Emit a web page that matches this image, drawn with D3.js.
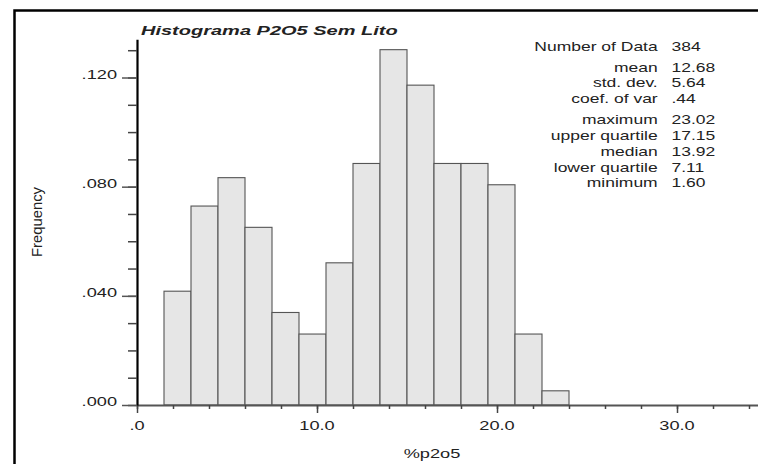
<!DOCTYPE html>
<html>
<head>
<meta charset="utf-8">
<script src="https://cdn.jsdelivr.net/npm/d3@7"></script>
<style>
  html, body { margin: 0; padding: 0; background: #fff; }
  svg { display: block; }
  text { font-family: "Liberation Sans", Arial, Helvetica, sans-serif; fill: #222; }
</style>
</head>
<body>
<script>
// ---- data ----
const binStart = 1.5;
const binWidth = 1.5;
const frequencies = [0.0417, 0.0729, 0.0833, 0.0651, 0.0339, 0.0260, 0.0521, 0.0885, 0.1302, 0.1172, 0.0885, 0.0885, 0.0807, 0.0260, 0.0052];
const xMajorTicks = [0, 10, 20, 30];
const xTickLabels = [".0", "10.0", "20.0", "30.0"];
const yMajorTicks = [0, 0.04, 0.08, 0.12];
const yTickLabels = [".000", ".040", ".080", ".120"];
const statLabels = ["Number of Data", "mean", "std. dev.", "coef. of var", "maximum", "upper quartile", "median", "lower quartile", "minimum"];
const statValues = ["384", "12.68", "5.64", ".44", "23.02", "17.15", "13.92", "7.11", "1.60"];
const statGroups = [0, 1, 1, 1, 2, 2, 2, 2, 2];
const title = "Histograma P2O5 Sem Lito";
const xLabel = "%p2o5";
const yLabel = "Frequency";

// ---- layout ----
const W = 758, H = 464;
const SX = 1.4; // horizontal stretch of the original text
const svg = d3.select("body").append("svg").attr("width", W).attr("height", H);

const x = d3.scaleLinear().domain([0, 34.5]).range([137, 758]);
const y = d3.scaleLinear().domain([0, 0.134]).range([405, 39.3]);

// frame
svg.append("rect").attr("x", 14.5).attr("y", 10.5).attr("width", 900).attr("height", 600)
  .attr("fill", "none").attr("stroke", "#000").attr("stroke-width", 2.5);

// bars
const bins = frequencies.map((f, i) => ({ x0: binStart + i * binWidth, x1: binStart + (i + 1) * binWidth, f }));
svg.append("g").selectAll("rect").data(bins).join("rect")
  .attr("x", d => x(d.x0))
  .attr("y", d => y(d.f))
  .attr("width", d => x(d.x1) - x(d.x0))
  .attr("height", d => y(0) - y(d.f))
  .attr("fill", "#e6e6e6")
  .attr("stroke", "#555")
  .attr("stroke-width", 1.1);

// x axis (minor + major)
const xMinor = d3.range(0, 34.01, 2);
svg.append("g").attr("transform", `translate(0,${y(0)})`)
  .call(d3.axisBottom(x).tickValues(xMinor).tickSize(4).tickSizeOuter(0).tickFormat(""))
  .call(g => g.select(".domain").attr("stroke", "#555").attr("stroke-width", 2))
  .call(g => g.selectAll(".tick line").attr("stroke", "#444").attr("stroke-width", 1.5));
svg.append("g").attr("transform", `translate(0,${y(0)})`)
  .call(d3.axisBottom(x).tickValues(xMajorTicks).tickSize(8).tickSizeOuter(0).tickFormat(""))
  .call(g => g.select(".domain").remove())
  .call(g => g.selectAll(".tick line").attr("stroke", "#444").attr("stroke-width", 1.5));
svg.append("g").selectAll("text").data(xMajorTicks).join("text")
  .attr("transform", d => `translate(${x(d)},430) scale(${SX},1)`)
  .attr("text-anchor", "middle").attr("font-size", 13)
  .text((d, i) => xTickLabels[i]);

// y axis (minor + major)
const yMinor = d3.range(0, 0.1301, 0.01);
svg.append("g").attr("transform", `translate(${x(0)},0)`)
  .call(d3.axisLeft(y).tickValues(yMinor).tickSize(9).tickSizeOuter(0).tickFormat(""))
  .call(g => g.select(".domain").attr("stroke", "#000").attr("stroke-width", 2.2))
  .call(g => g.selectAll(".tick line").attr("stroke", "#444").attr("stroke-width", 1.5));
svg.append("g").attr("transform", `translate(${x(0)},0)`)
  .call(d3.axisLeft(y).tickValues(yMajorTicks).tickSize(15).tickSizeOuter(0).tickFormat(""))
  .call(g => g.select(".domain").remove())
  .call(g => g.selectAll(".tick line").attr("stroke", "#555").attr("stroke-width", 1.5));
svg.append("g").selectAll("text").data(yMajorTicks).join("text")
  .attr("transform", d => `translate(117,${y(d) + 1}) scale(${SX},1)`)
  .attr("text-anchor", "end").attr("font-size", 13)
  .text((d, i) => yTickLabels[i]);

// title
svg.append("text")
  .attr("transform", `translate(141,34.5) scale(1.54,1)`)
  .attr("font-size", 13).attr("font-weight", "bold").attr("font-style", "italic")
  .attr("fill", "#111")
  .text(title);

// axis titles
svg.append("text")
  .attr("transform", `translate(432,458) scale(${SX},1)`)
  .attr("text-anchor", "middle").attr("font-size", 13)
  .text(xLabel);
svg.append("text")
  .attr("transform", `translate(41.5,222) rotate(-90) scale(1.14,1.1)`)
  .attr("text-anchor", "middle").attr("font-size", 13)
  .text(yLabel);

// statistics block
const rowY = [];
let yy = 50.5;
statLabels.forEach((s, i) => {
  if (i > 0) yy += (statGroups[i] !== statGroups[i - 1]) ? 21 : 15.8;
  rowY.push(yy);
});
const stats = svg.append("g");
stats.selectAll("text.lab").data(statLabels).join("text").attr("class", "lab")
  .attr("transform", (d, i) => `translate(657.7,${rowY[i]}) scale(${SX},1)`)
  .attr("text-anchor", "end").attr("font-size", 12.5)
  .text(d => d);
stats.selectAll("text.val").data(statValues).join("text").attr("class", "val")
  .attr("transform", (d, i) => `translate(671.5,${rowY[i]}) scale(${SX},1)`)
  .attr("font-size", 12.5)
  .text(d => d);
</script>
</body>
</html>
